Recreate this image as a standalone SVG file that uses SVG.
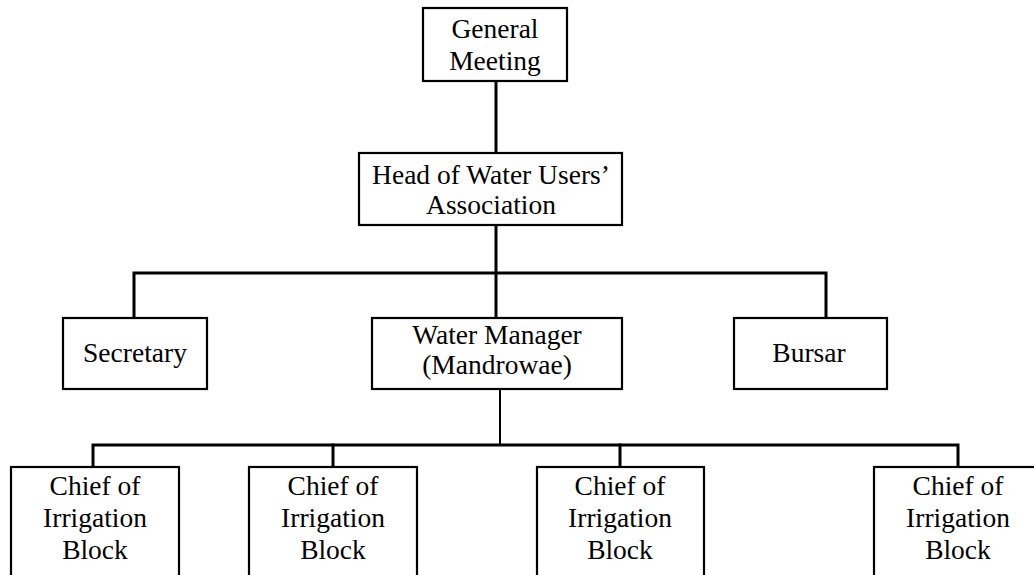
<svg xmlns="http://www.w3.org/2000/svg" width="1034" height="575" viewBox="0 0 1034 575">
<style>
.box{fill:#fff;stroke:#000;stroke-width:2.2}
.ln{fill:none;stroke:#000;stroke-width:3;stroke-linecap:square}
.thin{fill:none;stroke:#000;stroke-width:2}
text{font-family:"Liberation Serif","Times New Roman",serif;font-size:27.5px;fill:#000;text-anchor:middle}
</style>
<rect width="1034" height="575" fill="#fff"/>
<g id="connectors">
<path class="ln" d="M496 81V318"/>
<path class="ln" d="M134 318V273H826V318"/>
<path class="thin" d="M500 389V445"/>
<path class="ln" d="M93 467V445H958V467"/>
<path class="ln" d="M333 445V467"/>
<path class="ln" d="M620 445V467"/>
</g>
<g id="general-meeting">
<rect class="box" x="423" y="8" width="144" height="73"/>
<text x="495" y="38">General</text>
<text x="495" y="70">Meeting</text>
</g>
<g id="head">
<rect class="box" x="359" y="153" width="263" height="72"/>
<text x="491" y="184">Head of Water Users’</text>
<text x="491" y="214">Association</text>
</g>
<g id="secretary">
<rect class="box" x="63" y="318" width="144" height="71"/>
<text x="135" y="362">Secretary</text>
</g>
<g id="water-manager">
<rect class="box" x="372" y="318" width="250" height="71"/>
<text x="497" y="344">Water Manager</text>
<text x="497" y="374">(Mandrowae)</text>
</g>
<g id="bursar">
<rect class="box" x="734" y="318" width="153" height="71"/>
<text x="809" y="362">Bursar</text>
</g>
<g id="chief1">
<rect class="box" x="11" y="467" width="168" height="120"/>
<text x="95" y="495">Chief of</text>
<text x="95" y="527">Irrigation</text>
<text x="95" y="559">Block</text>
</g>
<g id="chief2">
<rect class="box" x="249" y="467" width="168" height="120"/>
<text x="333" y="495">Chief of</text>
<text x="333" y="527">Irrigation</text>
<text x="333" y="559">Block</text>
</g>
<g id="chief3">
<rect class="box" x="537" y="467" width="167" height="120"/>
<text x="620" y="495">Chief of</text>
<text x="620" y="527">Irrigation</text>
<text x="620" y="559">Block</text>
</g>
<g id="chief4">
<rect class="box" x="874" y="467" width="168" height="120"/>
<text x="958" y="495">Chief of</text>
<text x="958" y="527">Irrigation</text>
<text x="958" y="559">Block</text>
</g>
</svg>
